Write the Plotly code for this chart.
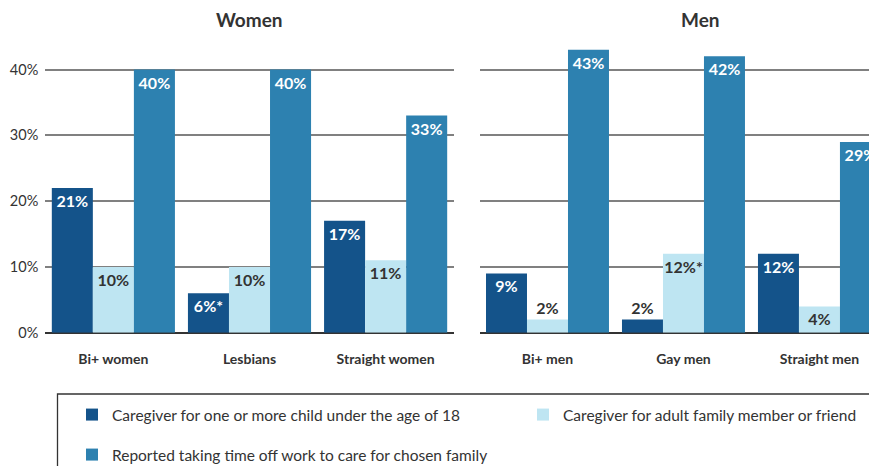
import plotly.graph_objects as go

# ---------------- data ----------------
women_groups = ["Bi+ women", "Lesbians", "Straight women"]
men_groups = ["Bi+ men", "Gay men", "Straight men"]

series_names = [
    "Caregiver for one or more child under the age of 18",
    "Caregiver for adult family member or friend",
    "Reported taking time off work to care for chosen family",
]

child_women = [22, 6, 17]
child_women_lbl = ["21%", "6%*", "17%"]
adult_women = [10, 10, 11]
adult_women_lbl = ["10%", "10%", "11%"]
timeoff_women = [40, 40, 33]
timeoff_women_lbl = ["40%", "40%", "33%"]

child_men = [9, 2, 12]
child_men_lbl = ["9%", "2%", "12%"]
adult_men = [2, 12, 4]
adult_men_lbl = ["2%", "12%*", "4%"]
timeoff_men = [43, 42, 29]
timeoff_men_lbl = ["43%", "42%", "29%"]

y_ticks = [0, 10, 20, 30, 40]
y_tick_labels = ["0%", "10%", "20%", "30%", "40%"]

# ---------------- style ----------------
W, H = 877, 466
OFF = 8  # page body margin offset
FONT = "Lato, 'Open Sans', sans-serif"
colors = ["#14538a", "#bee5f2", "#2d81b0"]
in_colors = ["white", "#333333", "white"]
TXT = "#333333"


def px_x(p):
    return (p - OFF) / W


def px_y(p):
    return 1 - (p - OFF) / H


fig = go.Figure()

women = [(child_women, child_women_lbl), (adult_women, adult_women_lbl), (timeoff_women, timeoff_women_lbl)]
men = [(child_men, child_men_lbl), (adult_men, adult_men_lbl), (timeoff_men, timeoff_men_lbl)]
legend_ids = ["legend", "legend2", "legend3"]

for panel, (cats, data, xa, ya) in enumerate([
    (women_groups, women, "x", "y"),
    (men_groups, men, "x2", "y2"),
]):
    for i, (vals, lbls) in enumerate(data):
        pos = ["inside" if v >= 4 else "outside" for v in vals]
        fig.add_trace(go.Bar(
            x=cats, y=vals, text=lbls, textposition=pos,
            insidetextanchor="end", constraintext="none", textangle=0,
            insidetextfont=dict(family=FONT, size=16, color=in_colors[i], weight="bold"),
            outsidetextfont=dict(family=FONT, size=16, color=TXT, weight="bold"),
            marker=dict(color=colors[i], line=dict(width=0)),
            name=series_names[i],
            legendgroup=f"s{i}",
            showlegend=(panel == 0),
            legend=legend_ids[i],
            xaxis=xa, yaxis=ya,
            hoverinfo="skip",
            cliponaxis=True,
        ))

y_dom = [px_y(332.7), px_y(36.6)]
yax_common = dict(
    range=[0, 45], domain=y_dom, tickvals=y_ticks, ticktext=y_tick_labels,
    showgrid=True, gridcolor="#808080", gridwidth=1.5,
    zeroline=True, zerolinecolor="#333333", zerolinewidth=2,
    ticks="", fixedrange=True, automargin=False,
)
xax_common = dict(
    type="category", showgrid=False, zeroline=False, ticks="",
    tickfont=dict(family=FONT, size=14, color=TXT, weight="bold"),
    ticklabelstandoff=16, showline=False, automargin=False,
)

legend_common = dict(
    orientation="h", xanchor="left", yanchor="middle",
    font=dict(family=FONT, size=15.5, color=TXT), bgcolor="rgba(0,0,0,0)",
)

fig.update_layout(
    width=W, height=H,
    margin=dict(l=0, r=0, t=0, b=0, autoexpand=False),
    paper_bgcolor="white", plot_bgcolor="white",
    barmode="group", bargap=0.0956, bargroupgap=0,
    font=dict(family=FONT, color=TXT),
    xaxis=dict(domain=[px_x(45.3), px_x(453.7)], range=[-0.5, 2.5], anchor="y", **xax_common),
    xaxis2=dict(domain=[px_x(479.5), 1.0], range=[-0.5, 2.482], anchor="y2", **xax_common),
    yaxis=dict(anchor="x", showticklabels=True,
               tickfont=dict(family=FONT, size=14.5, color=TXT),
               ticklabelstandoff=6, **yax_common),
    yaxis2=dict(anchor="x2", showticklabels=False, **yax_common),
    legend=dict(x=px_x(72), y=px_y(415), **legend_common),
    legend2=dict(x=px_x(523), y=px_y(415), **legend_common),
    legend3=dict(x=px_x(72), y=px_y(455), **legend_common),
    annotations=[
        dict(text="<b>Women</b>", x=px_x(250), y=px_y(20), xref="paper", yref="paper",
             xanchor="center", yanchor="middle",
             showarrow=False, font=dict(family=FONT, size=19, color=TXT)),
        dict(text="<b>Men</b>", x=px_x(700), y=px_y(20), xref="paper", yref="paper",
             xanchor="center", yanchor="middle",
             showarrow=False, font=dict(family=FONT, size=19, color=TXT)),
    ],
    shapes=[
        dict(type="rect", xref="paper", yref="paper",
             x0=px_x(57.5), x1=px_x(900), y0=px_y(394), y1=px_y(490),
             line=dict(color="#333333", width=1.3), fillcolor="rgba(0,0,0,0)"),
    ],
)

fig.write_html("out.html")
